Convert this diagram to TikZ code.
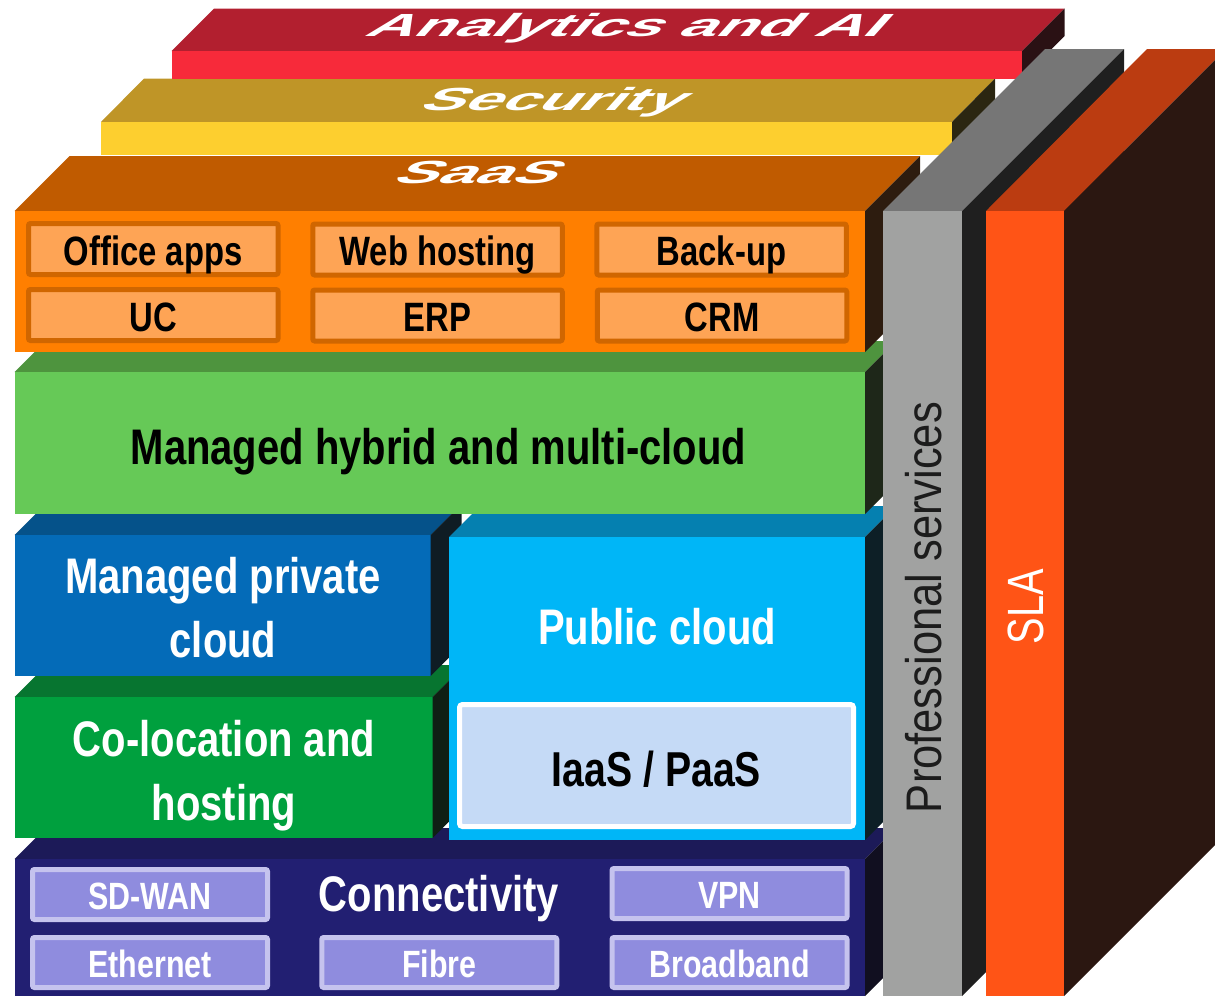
\documentclass[tikz,border=0pt]{standalone}
\usepackage{fontspec}
\setmainfont{Liberation Sans}
\newfontfamily\narrowfont{Liberation Sans}[FakeStretch=0.8]
\newfontfamily\sidefont{Liberation Sans}[FakeStretch=0.87]
\newfontfamily\slafont{Liberation Sans}[FakeStretch=0.78]
\newfontfamily\topfont{Liberation Sans}[FakeStretch=2.07,FakeSlant=0.9]

\definecolor{anTop}{HTML}{B21F2F}
\definecolor{anFront}{HTML}{F72A3A}
\definecolor{anSide}{HTML}{2A1114}
\definecolor{secTop}{HTML}{BF9527}
\definecolor{secFront}{HTML}{FDCF2F}
\definecolor{secSide}{HTML}{2B2611}
\definecolor{saasTop}{HTML}{C05B00}
\definecolor{saasFront}{HTML}{FF7F00}
\definecolor{saasSide}{HTML}{2D1C0F}
\definecolor{saasEdge}{HTML}{D06600}
\definecolor{saasFill}{HTML}{FEA455}
\definecolor{hybTop}{HTML}{4E943E}
\definecolor{hybFront}{HTML}{66C957}
\definecolor{hybSide}{HTML}{1E2719}
\definecolor{privTop}{HTML}{05528A}
\definecolor{privFront}{HTML}{046BB8}
\definecolor{privSide}{HTML}{0F1C24}
\definecolor{pubTop}{HTML}{0580B0}
\definecolor{pubFront}{HTML}{00B6F7}
\definecolor{pubSide}{HTML}{0D1F26}
\definecolor{iaasFill}{HTML}{C5DAF6}
\definecolor{colTop}{HTML}{077530}
\definecolor{colFront}{HTML}{00A03E}
\definecolor{colSide}{HTML}{0F1F14}
\definecolor{conTop}{HTML}{1C1A58}
\definecolor{conFront}{HTML}{221F72}
\definecolor{conSide}{HTML}{110F20}
\definecolor{netEdge}{HTML}{C5C3EE}
\definecolor{netFill}{HTML}{8F8CDE}
\definecolor{proTop}{HTML}{767676}
\definecolor{proFront}{HTML}{A1A2A1}
\definecolor{proSide}{HTML}{1F1F1F}
\definecolor{proText}{HTML}{1C1C1C}
\definecolor{slaTop}{HTML}{BB3C11}
\definecolor{slaFront}{HTML}{FF5416}
\definecolor{slaSide}{HTML}{2B1711}

\begin{document}
\begin{tikzpicture}[x=1pt,y=1pt]
\tikzstyle{every node}+=[inner sep=0pt]
\tikzstyle{toplabel}=[anchor=base, text=white, font=\topfont\bfseries\fontsize{32}{32}\selectfont]
\tikzstyle{biglabel}=[anchor=base, align=center, font=\narrowfont\bfseries\fontsize{50}{64}\selectfont]
\tikzstyle{saasbox}=[draw=saasEdge, fill=saasFill, line width=5pt, rounded corners=2pt, minimum width=249.5pt, minimum height=51pt, text height=32pt, text depth=0pt, font=\narrowfont\bfseries\fontsize{41}{41}\selectfont]
\tikzstyle{netbox}=[draw=netEdge, fill=netFill, line width=5pt, rounded corners=2pt, minimum width=235pt, minimum height=50pt, text height=30pt, text depth=0pt, text=white, font=\narrowfont\bfseries\fontsize{38}{38}\selectfont]
\useasboundingbox (0,0) rectangle (1215,-996);
\fill [conTop] (14.5,-859) -- (45.5,-828) -- (896,-828) -- (865,-859) -- cycle;
\fill [conFront] (14.5,-859) rectangle (865,-996);
\fill [conSide] (865,-859) -- (896,-828) -- (896,-965) -- (865,-996) -- cycle;
\fill [colTop] (14.5,-697) -- (46.5,-665) -- (464.5,-665) -- (432.5,-697) -- cycle;
\fill [colFront] (14.5,-697) rectangle (432.5,-838);
\fill [colSide] (432.5,-697) -- (464.5,-665) -- (464.5,-806) -- (432.5,-838) -- cycle;
\fill [privTop] (14.5,-535) -- (45.5,-504) -- (461.5,-504) -- (430.5,-535) -- cycle;
\fill [privFront] (14.5,-535) rectangle (430.5,-676);
\fill [privSide] (430.5,-535) -- (461.5,-504) -- (461.5,-645) -- (430.5,-676) -- cycle;
\fill [pubTop] (449,-537) -- (480,-506) -- (896,-506) -- (865,-537) -- cycle;
\fill [pubFront] (449,-537) rectangle (865,-840);
\fill [pubSide] (865,-537) -- (896,-506) -- (896,-809) -- (865,-840) -- cycle;
\fill [hybTop] (14.5,-372) -- (45.5,-341) -- (896,-341) -- (865,-372) -- cycle;
\fill [hybFront] (14.5,-372) rectangle (865,-514);
\fill [hybSide] (865,-372) -- (896,-341) -- (896,-483) -- (865,-514) -- cycle;
\fill [saasTop] (14.5,-211) -- (69.5,-156) -- (920,-156) -- (865,-211) -- cycle;
\fill [saasFront] (14.5,-211) rectangle (865,-352);
\fill [saasSide] (865,-211) -- (920,-156) -- (920,-297) -- (865,-352) -- cycle;
\fill [secTop] (101,-122) -- (144,-78.5) -- (995,-78.5) -- (952,-122) -- cycle;
\fill [secFront] (101,-122) rectangle (952,-155);
\fill [secSide] (952,-122) -- (995,-78.5) -- (995,-111.5) -- (952,-155) -- cycle;
\fill [anTop] (171.5,-51) -- (214,-8.5) -- (1064.5,-8.5) -- (1022,-51) -- cycle;
\fill [anFront] (171.5,-51) rectangle (1022,-78.5);
\fill [anSide] (1022,-51) -- (1064.5,-8.5) -- (1064.5,-36) -- (1022,-78.5) -- cycle;
\fill [proTop] (883,-211) -- (1045,-49) -- (1124,-49) -- (962,-211) -- cycle;
\fill [proFront] (883,-211) rectangle (962,-996);
\fill [proSide] (962,-211) -- (1124,-49) -- (1124,-834) -- (962,-996) -- cycle;
\fill [slaTop] (986,-211) -- (1147,-49) -- (1226,-49) -- (1064,-211) -- cycle;
\fill [slaFront] (986,-211) rectangle (1064,-996);
\fill [slaSide] (1064,-211) -- (1226,-49) -- (1226,-834) -- (1064,-996) -- cycle;
\node [toplabel] (analytics) at (621,-36.7) {Analytics and AI};
\node [toplabel] (security) at (548,-110) {Security};
\node [toplabel] (saas) at (472,-183.3) {SaaS};
\node [saasbox] (office) at (153.25,-249) {Office apps};
\node [saasbox] (uc) at (153.25,-315) {UC};
\node [saasbox] (webhost) at (437.5,-249.5) {Web hosting};
\node [saasbox] (erp) at (437.5,-315.5) {ERP};
\node [saasbox] (backup) at (721.5,-249.5) {Back-up};
\node [saasbox] (crm) at (722,-315.5) {CRM};
\node [biglabel] (hybrid) at (438.5,-464) {Managed hybrid and multi-cloud};
\node [biglabel, text=white] (private) at (223,-657) {Managed private\\cloud};
\node [biglabel, text=white] (public) at (657,-644) {Public cloud};
\node [draw=white, fill=iaasFill, line width=5pt, rounded corners=3pt, minimum width=394pt, minimum height=122pt, text height=41pt, text depth=0pt, font=\narrowfont\bfseries\fontsize{49}{49}\selectfont] (iaas) at (656.5,-765.5) {IaaS / PaaS};
\node [biglabel, text=white] (coloc) at (224,-820) {Co-location and\\hosting};
\node [biglabel, text=white] (connect) at (439,-911) {Connectivity};
\node [netbox] (sdwan) at (150,-894.5) {SD-WAN};
\node [netbox] (ethernet) at (150,-962.5) {Ethernet};
\node [netbox] (fibre) at (439.25,-962.5) {Fibre};
\node [netbox] (vpn) at (729.5,-893.5) {VPN};
\node [netbox] (broadband) at (729.5,-962.5) {Broadband};
\node [rotate=90, anchor=base, text=proText, font=\sidefont\fontsize{50}{50}\selectfont] (profserv) at (941.7,-607.5) {Professional services};
\node [rotate=90, anchor=base, text=white, font=\slafont\fontsize{51}{51}\selectfont] (sla) at (1043.3,-606.5) {SLA};
\end{tikzpicture}
\end{document}
